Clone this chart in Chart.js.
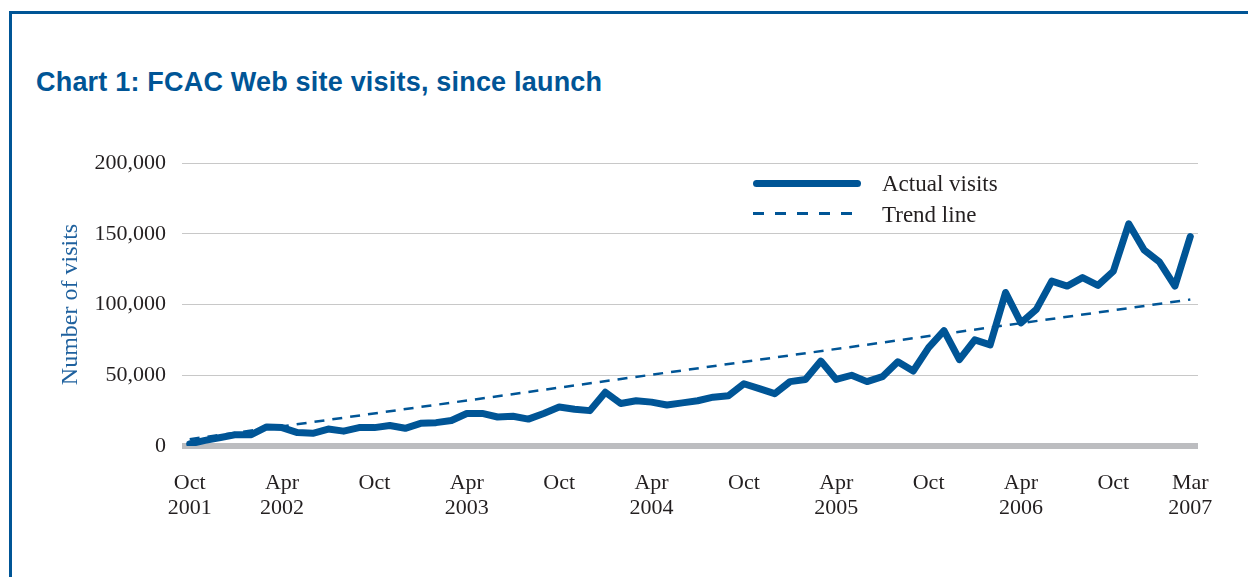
<!DOCTYPE html>
<html>
<head>
<meta charset="utf-8">
<script src="https://cdn.jsdelivr.net/npm/chart.js@4"></script>
<style>
  body { margin: 0; width: 1248px; height: 577px; background: #fff; overflow: hidden; position: relative; }
  #frame { position: absolute; left: 9px; top: 11px; width: 1300px; height: 700px;
           border-top: 3px solid #005596; border-left: 3px solid #005596; }
  #title { position: absolute; left: 36px; top: 67px; margin: 0; line-height: 27px; letter-spacing: 0.2px;
           font: bold 27px 'Liberation Sans', sans-serif; color: #005596; }
  #chart { position: absolute; left: 0; top: 0; }
  .swatch { position: absolute; left: 753px; width: 108px; }
  .solid { top: 180px; height: 7px; border-radius: 4px; background: #005596; }
  .dashed { top: 212px; height: 2.5px;
            background: repeating-linear-gradient(to right, #005596 0 11px, transparent 11px 22px); }
  .legtext { position: absolute; left: 882px; font: 23px 'Liberation Serif', serif; color: #231f20; line-height: 23px; }
</style>
</head>
<body>
<div id="frame"></div>
<h1 id="title">Chart 1: FCAC Web site visits, since launch</h1>
<canvas id="chart" width="1248" height="577"></canvas>
<div class="swatch solid"></div>
<div class="legtext" style="top:172px">Actual visits</div>
<div class="swatch dashed"></div>
<div class="legtext" style="top:203px">Trend line</div>
<script>
const months = [
  'Oct 2001', 'Nov 2001', 'Dec 2001', 'Jan 2002', 'Feb 2002', 'Mar 2002',
  'Apr 2002', 'May 2002', 'Jun 2002', 'Jul 2002', 'Aug 2002', 'Sep 2002',
  'Oct 2002', 'Nov 2002', 'Dec 2002', 'Jan 2003', 'Feb 2003', 'Mar 2003',
  'Apr 2003', 'May 2003', 'Jun 2003', 'Jul 2003', 'Aug 2003', 'Sep 2003',
  'Oct 2003', 'Nov 2003', 'Dec 2003', 'Jan 2004', 'Feb 2004', 'Mar 2004',
  'Apr 2004', 'May 2004', 'Jun 2004', 'Jul 2004', 'Aug 2004', 'Sep 2004',
  'Oct 2004', 'Nov 2004', 'Dec 2004', 'Jan 2005', 'Feb 2005', 'Mar 2005',
  'Apr 2005', 'May 2005', 'Jun 2005', 'Jul 2005', 'Aug 2005', 'Sep 2005',
  'Oct 2005', 'Nov 2005', 'Dec 2005', 'Jan 2006', 'Feb 2006', 'Mar 2006',
  'Apr 2006', 'May 2006', 'Jun 2006', 'Jul 2006', 'Aug 2006', 'Sep 2006',
  'Oct 2006', 'Nov 2006', 'Dec 2006', 'Jan 2007', 'Feb 2007', 'Mar 2007'
]

const visits = [
  1500, 4000, 6000, 8000, 8000, 13500,
  13000, 9500, 9000, 12000, 10500, 13000,
  13000, 14500, 12500, 16000, 16500, 18000,
  23000, 23000, 20500, 21000, 19000, 23000,
  27500, 26000, 25000, 38000, 30000, 32000,
  31000, 29000, 30500, 32000, 34500, 35500,
  44000, 40500, 37000, 45500, 47000, 60000,
  47000, 50000, 45500, 49000, 59500, 53000,
  69500, 81500, 61000, 75000, 71500, 108500,
  87000, 96500, 116500, 113000, 119000, 113500,
  123500, 157000, 138500, 130000, 113000, 148000
]

// trend line: straight, only its two end values are known
const trendEnds = [4800, 103500]
const trend = months.map((m, i) => i === 0 ? trendEnds[0] : (i === months.length - 1 ? trendEnds[1] : null))

const xTickLabels = {
  'Oct 2001': ['Oct', '2001'], 'Apr 2002': ['Apr', '2002'], 'Oct 2002': ['Oct'],
  'Apr 2003': ['Apr', '2003'], 'Oct 2003': ['Oct'], 'Apr 2004': ['Apr', '2004'],
  'Oct 2004': ['Oct'], 'Apr 2005': ['Apr', '2005'], 'Oct 2005': ['Oct'],
  'Apr 2006': ['Apr', '2006'], 'Oct 2006': ['Oct'], 'Mar 2007': ['Mar', '2007']
}
const yTicks = [0, 50000, 100000, 150000, 200000]

const blue = '#005596'
const serif = "'Liberation Serif', serif"

new Chart(document.getElementById('chart'), {
  type: 'line',
  data: {
    labels: months,
    datasets: [
      {
        label: 'Actual visits',
        data: visits,
        borderColor: blue,
        borderWidth: 7,
        borderJoinStyle: 'round',
        borderCapStyle: 'round',
        pointRadius: 0,
        tension: 0
      },
      {
        label: 'Trend line',
        data: trend,
        borderColor: blue,
        borderWidth: 2.5,
        borderDash: [10, 8],
        pointRadius: 0,
        spanGaps: true
      }
    ]
  },
  options: {
    responsive: false,
    animation: false,
    layout: { padding: { left: 56, right: 50, top: 163, bottom: 0 } },
    plugins: { legend: { display: false }, tooltip: { enabled: false } },
    scales: {
      x: {
        offset: true,
        afterFit: s => { s.height = 131 },
        grid: { display: false },
        border: { display: false },
        ticks: {
          autoSkip: false,
          maxRotation: 0,
          padding: 17,
          color: '#231f20',
          font: { family: serif, size: 22, lineHeight: 1.14 },
          callback: (v, i) => xTickLabels[months[i]] || null
        }
      },
      y: {
        min: yTicks[0],
        max: yTicks[yTicks.length - 1],
        afterFit: s => { s.width = 126 },
        afterBuildTicks: s => { s.ticks = yTicks.map(v => ({ value: v })) },
        border: { display: false },
        grid: {
          drawTicks: false,
          color: c => c.tick.value === 0 ? '#bcbdc0' : '#c8c8c8',
          lineWidth: c => c.tick.value === 0 ? 6 : 1
        },
        ticks: {
          padding: 16,
          color: '#231f20',
          font: { family: serif, size: 22 },
          callback: v => v.toLocaleString('en-US')
        },
        title: {
          display: true,
          text: 'Number of visits',
          color: '#1f619e',
          font: { family: serif, size: 24 },
          padding: { top: 0, bottom: 0 }
        }
      }
    }
  }
})
</script>
</body>
</html>
